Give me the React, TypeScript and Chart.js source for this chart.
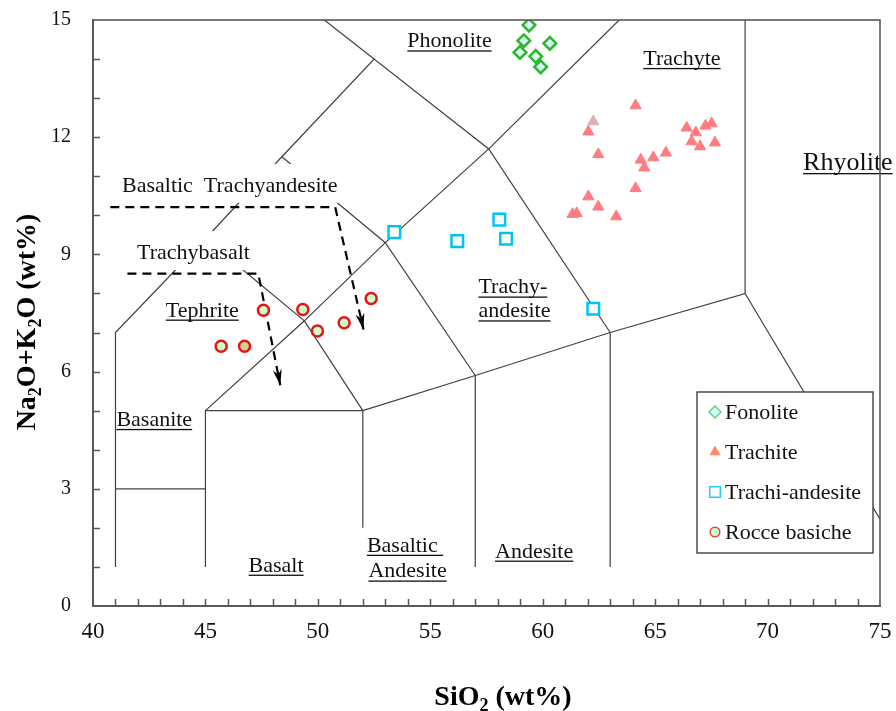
import React, { useEffect, useRef } from 'react';
import { Chart, registerables } from 'chart.js';

Chart.register(...registerables);

const FONT = "'Liberation Serif', 'Times New Roman', serif";

// ---------- sample data (SiO2, Na2O+K2O) ----------
const fonolite: [number, number][] = [
  [59.39, 14.87], [59.16, 14.47], [60.32, 14.4], [58.99, 14.17], [59.69, 14.07], [59.91, 13.8],
];
const trachite: [number, number][] = [
  [62.25, 12.4], [64.13, 12.81], [62.03, 12.14], [62.47, 11.56], [64.36, 11.42], [64.92, 11.48],
  [65.48, 11.6], [64.52, 11.22], [66.4, 12.24], [66.81, 12.12], [67.24, 12.29], [67.51, 12.35],
  [66.62, 11.89], [67.0, 11.76], [67.66, 11.86], [64.13, 10.69], [62.03, 10.48], [62.47, 10.22],
  [61.33, 10.03], [61.51, 10.05], [63.27, 9.97],
];
const trachiAndesite: [number, number][] = [
  [53.4, 9.57], [56.2, 9.34], [58.07, 9.89], [58.37, 9.4], [62.25, 7.61],
];
const rocceBasiche: [number, number][] = [
  [47.58, 7.57], [49.33, 7.59], [49.98, 7.04], [51.17, 7.25], [52.37, 7.87], [45.7, 6.65], [46.74, 6.65],
];

// ---------- trend arrows ----------
const arrowBTA: [number, number][] = [[40.77, 10.21], [50.77, 10.21], [52.03, 7.08]];
const arrowTB: [number, number][] = [[41.53, 8.51], [47.35, 8.51], [48.33, 5.65]];

// ---------- TAS field boundaries ----------
const bMain: [number, number][] = [[41, 1], [41, 7], [45, 9.4], [48.4, 11.5], [52.5, 14], [57.6, 11.7], [63, 7]];
const bPhonoTop: [number, number][] = [[50, 15.13], [52.5, 14]];
const bPhonoTrachyte: [number, number][] = [[57.6, 11.7], [63.4, 15]];
const bBasanite3: [number, number][] = [[41, 3], [45, 3]];
const bLower: [number, number][] = [[45, 1], [45, 5], [52, 5], [57, 5.9], [63, 7], [69, 8], [69, 15]];
const bRhyolite: [number, number][] = [[69, 8], [75, 2.22]];
const bTephrite: [number, number][] = [[45, 5], [49.4, 7.3], [53, 9.3], [57.6, 11.7]];
const bTrachybasalt: [number, number][] = [[45, 9.4], [49.4, 7.3], [52, 5]];
const bBTA: [number, number][] = [[48.4, 11.5], [53, 9.3], [57, 5.9]];
const b52: [number, number][] = [[52, 2], [52, 5]];
const b57: [number, number][] = [[57, 1], [57, 5.9]];
const b63: [number, number][] = [[63, 1], [63, 7]];
const boundaries = [bMain, bPhonoTop, bPhonoTrachyte, bBasanite3, bLower, bRhyolite, bTephrite, bTrachybasalt, bBTA, b52, b57, b63];

// ---------- ticks ----------
const xTickLabels = [40, 45, 50, 55, 60, 65, 70, 75];
const yTickLabels = [0, 3, 6, 9, 12, 15];

// ---------- field names (anchored in data units: left x, baseline y) ----------
const regionLabels = [
  { text: 'Phonolite', x: 53.98, y: 14.3, u: true },
  { text: 'Trachyte', x: 64.47, y: 13.85, u: true },
  { text: 'Rhyolite', x: 71.58, y: 11.16, u: true, big: true },
  { text: 'Basaltic  Trachyandesite', x: 41.29, y: 10.6, u: false, mask: true },
  { text: 'Trachybasalt', x: 41.96, y: 8.88, u: false, mask: true },
  { text: 'Tephrite', x: 43.24, y: 7.41, u: true },
  { text: 'Trachy-', x: 57.14, y: 8.0, u: true },
  { text: 'andesite', x: 57.14, y: 7.39, u: true },
  { text: 'Basanite', x: 41.04, y: 4.61, u: true },
  { text: 'Basalt', x: 46.92, y: 0.88, u: true },
  { text: 'Basaltic ', x: 52.18, y: 1.39, u: true },
  { text: 'Andesite', x: 52.25, y: 0.73, u: true },
  { text: 'Andesite', x: 57.88, y: 1.24, u: true },
];

const toXY = (arr: [number, number][]) => arr.map(([x, y]) => ({ x, y }));

function drawMarker(ctx: CanvasRenderingContext2D, style: string, x: number, y: number, r: number, fill: string, stroke: string, lw: number) {
  ctx.save();
  ctx.beginPath();
  if (style === 'rectRot') {
    ctx.moveTo(x - r, y); ctx.lineTo(x, y - r); ctx.lineTo(x + r, y); ctx.lineTo(x, y + r); ctx.closePath();
  } else if (style === 'triangle') {
    const h = r * Math.sqrt(3) / 2;
    ctx.moveTo(x, y - r); ctx.lineTo(x + h, y + r / 2); ctx.lineTo(x - h, y + r / 2); ctx.closePath();
  } else if (style === 'rect') {
    ctx.rect(x - r, y - r, 2 * r, 2 * r);
  } else {
    ctx.arc(x, y, r, 0, Math.PI * 2);
  }
  ctx.fillStyle = fill; ctx.fill();
  if (lw > 0) { ctx.lineWidth = lw; ctx.strokeStyle = stroke; ctx.stroke(); }
  ctx.restore();
}

function drawSubText(ctx: CanvasRenderingContext2D, parts: [string, boolean][], cx: number, by: number, size: number) {
  const subSize = Math.round(size * 0.65);
  let total = 0;
  for (const [t, sub] of parts) {
    ctx.font = `bold ${sub ? subSize : size}px ${FONT}`;
    total += ctx.measureText(t).width;
  }
  let xx = cx - total / 2;
  ctx.textAlign = 'left';
  ctx.textBaseline = 'alphabetic';
  for (const [t, sub] of parts) {
    ctx.font = `bold ${sub ? subSize : size}px ${FONT}`;
    ctx.fillText(t, xx, by + (sub ? size * 0.22 : 0));
    xx += ctx.measureText(t).width;
  }
}

const FIRST_BOUNDARY = 6;

const tasPlugin = {
  id: 'tasExtras',
  afterDatasetDraw(chart: any, args: any) {
    if (args.index !== FIRST_BOUNDARY) return;
    const { ctx, scales } = chart;
    ctx.save();
    for (const lab of regionLabels) {
      const size = lab.big ? 26 : 22;
      ctx.font = `${size}px ${FONT}`;
      const w = ctx.measureText(lab.text).width;
      const px = scales.x.getPixelForValue(lab.x);
      const py = scales.y.getPixelForValue(lab.y);
      if (lab.mask) {
        ctx.fillStyle = '#ffffff';
        ctx.fillRect(px - 6, py - 28, w + 12, 39);
      }
      ctx.fillStyle = '#111111';
      ctx.textAlign = 'left';
      ctx.textBaseline = 'alphabetic';
      ctx.fillText(lab.text, px, py);
      if (lab.u) ctx.fillRect(px, py + 3, w, 1.3);
    }
    ctx.restore();
  },
  afterDatasetsDraw(chart: any) {
    const { ctx, chartArea: ca, scales } = chart;
    ctx.save();
    // arrowheads on the trend lines
    for (const idx of [4, 5]) {
      const pts = chart.getDatasetMeta(idx).data;
      const a = pts[pts.length - 2], b = pts[pts.length - 1];
      const ang = Math.atan2(b.y - a.y, b.x - a.x);
      ctx.save();
      ctx.translate(b.x, b.y);
      ctx.rotate(ang);
      ctx.beginPath();
      ctx.moveTo(0, 0); ctx.lineTo(-16, -4.5); ctx.lineTo(-11, 0); ctx.lineTo(-16, 4.5); ctx.closePath();
      ctx.fillStyle = '#000'; ctx.fill();
      ctx.restore();
    }
    // inward minor ticks
    ctx.strokeStyle = '#595959';
    ctx.lineWidth = 1.5;
    ctx.beginPath();
    for (let v = 1; v < 15; v++) {
      const yy = Math.round(scales.y.getPixelForValue(v)) + 0.5;
      ctx.moveTo(ca.left, yy); ctx.lineTo(ca.left + 7, yy);
    }
    for (let v = 41; v < 75; v++) {
      const xx = Math.round(scales.x.getPixelForValue(v)) + 0.5;
      ctx.moveTo(xx, ca.bottom); ctx.lineTo(xx, ca.bottom - 7);
    }
    ctx.stroke();
    // plot frame
    ctx.lineWidth = 1.6;
    ctx.strokeRect(ca.left, ca.top, ca.right - ca.left, ca.bottom - ca.top);
    // legend
    const lx = ca.right - 183, ly = ca.top + 372, lw = 176, lh = 161;
    ctx.fillStyle = '#fff';
    ctx.fillRect(lx, ly, lw, lh);
    ctx.strokeStyle = '#404040';
    ctx.lineWidth = 1.4;
    ctx.strokeRect(lx, ly, lw, lh);
    const legendMarks = [
      { style: 'rectRot', r: 6, fill: '#ccffff', stroke: '#66cc66', lw: 1.3 },
      { style: 'triangle', r: 6.5, fill: '#ff8a70', stroke: '#ff8a70', lw: 0 },
      { style: 'rect', r: 5.3, fill: '#ffffff', stroke: '#22ccff', lw: 1.5 },
      { style: 'circle', r: 4.8, fill: '#ccffcc', stroke: '#e84040', lw: 1.5 },
    ];
    ctx.font = `22px ${FONT}`;
    ctx.textAlign = 'left';
    ctx.textBaseline = 'middle';
    for (let i = 0; i < 4; i++) {
      const cy = ly + 20 + i * 40;
      const m = legendMarks[i];
      drawMarker(ctx, m.style, lx + 18, cy, m.r, m.fill, m.stroke, m.lw);
      ctx.fillStyle = '#111';
      ctx.fillText(chart.data.datasets[i].label, lx + 28, cy + 1);
    }
    ctx.restore();
  },
  afterDraw(chart: any) {
    const { ctx, chartArea: ca } = chart;
    ctx.save();
    ctx.fillStyle = '#000';
    drawSubText(ctx, [['SiO', false], ['2', true], [' (wt%)', false]], ca.left + 410, 705, 28);
    ctx.translate(35, 322);
    ctx.rotate(-Math.PI / 2);
    drawSubText(ctx, [['Na', false], ['2', true], ['O+K', false], ['2', true], ['O (wt%)', false]], 0, 0, 28);
    ctx.restore();
  },
};

const zeroPad = (s: any) => {
  s.paddingTop = 0; s.paddingBottom = 0; s.paddingLeft = 0; s.paddingRight = 0;
};

export default function App() {
  const ref = useRef<HTMLCanvasElement | null>(null);
  useEffect(() => {
    document.body.style.margin = '0';
    if (!ref.current) return;
    const boundaryDatasets = boundaries.map((b) => ({
      label: '',
      data: toXY(b),
      showLine: true,
      pointRadius: 0,
      borderColor: '#404040',
      borderWidth: 1.2,
      fill: false,
    }));
    const chart = new Chart(ref.current, {
      type: 'scatter',
      data: {
        datasets: [
          {
            label: 'Fonolite', data: toXY(fonolite), pointStyle: 'rectRot', pointRadius: 6.3,
            backgroundColor: '#d4fafa', borderColor: '#2db52d', borderWidth: 2.5,
          },
          {
            label: 'Trachite', data: toXY(trachite), pointStyle: 'triangle', pointRadius: 6.5,
            backgroundColor: trachite.map((_, i) => (i === 0 ? '#dcb0ad' : '#ff7c80')),
            borderColor: trachite.map((_, i) => (i === 0 ? '#dcb0ad' : '#ff7c80')), borderWidth: 1,
          },
          {
            label: 'Trachi-andesite', data: toXY(trachiAndesite), pointStyle: 'rect', pointRadius: 8.2,
            backgroundColor: '#ffffff', borderColor: '#00c4f4', borderWidth: 2.5,
          },
          {
            label: 'Rocce basiche', data: toXY(rocceBasiche), pointStyle: 'circle', pointRadius: 5.5,
            backgroundColor: rocceBasiche.map((_, i) => (i === 6 ? '#c3d69b' : '#ccffcc')),
            borderColor: '#e81414', borderWidth: 2.5,
          },
          {
            label: '', data: toXY(arrowBTA), showLine: true, pointRadius: 0, borderColor: '#000',
            borderWidth: 2.2, borderDash: [9, 6], fill: false,
          },
          {
            label: '', data: toXY(arrowTB), showLine: true, pointRadius: 0, borderColor: '#000',
            borderWidth: 2.2, borderDash: [9, 6], fill: false,
          },
          ...boundaryDatasets,
        ],
      } as any,
      options: {
        responsive: false,
        animation: false,
        devicePixelRatio: 1,
        layout: { padding: { top: 20, right: 16, left: 0, bottom: 0 } },
        plugins: { legend: { display: false }, tooltip: { enabled: false } },
        scales: {
          x: {
            type: 'linear', min: 40, max: 75, position: 'bottom',
            afterBuildTicks: (s: any) => { s.ticks = xTickLabels.map((v) => ({ value: v })); },
            ticks: { font: { family: FONT, size: 23 }, color: '#111', padding: 12, maxRotation: 0, autoSkip: false },
            grid: { display: false, drawTicks: false },
            border: { display: true, color: '#595959', width: 2 },
            afterFit: (s: any) => { s.height = 105; zeroPad(s); },
          },
          y: {
            type: 'linear', min: 0, max: 15,
            afterBuildTicks: (s: any) => { s.ticks = yTickLabels.map((v) => ({ value: v })); },
            ticks: { font: { family: FONT, size: 20 }, color: '#111', padding: 22, autoSkip: false },
            grid: { display: false, drawTicks: false },
            border: { display: true, color: '#595959', width: 2 },
            afterFit: (s: any) => { s.width = 93; zeroPad(s); },
          },
        },
      } as any,
      plugins: [tasPlugin as any],
    });
    return () => chart.destroy();
  }, []);
  return (
    <div style={{ width: 896, height: 711, background: '#fff' }}>
      <canvas ref={ref} width={896} height={711} style={{ display: 'block' }} />
    </div>
  );
}
